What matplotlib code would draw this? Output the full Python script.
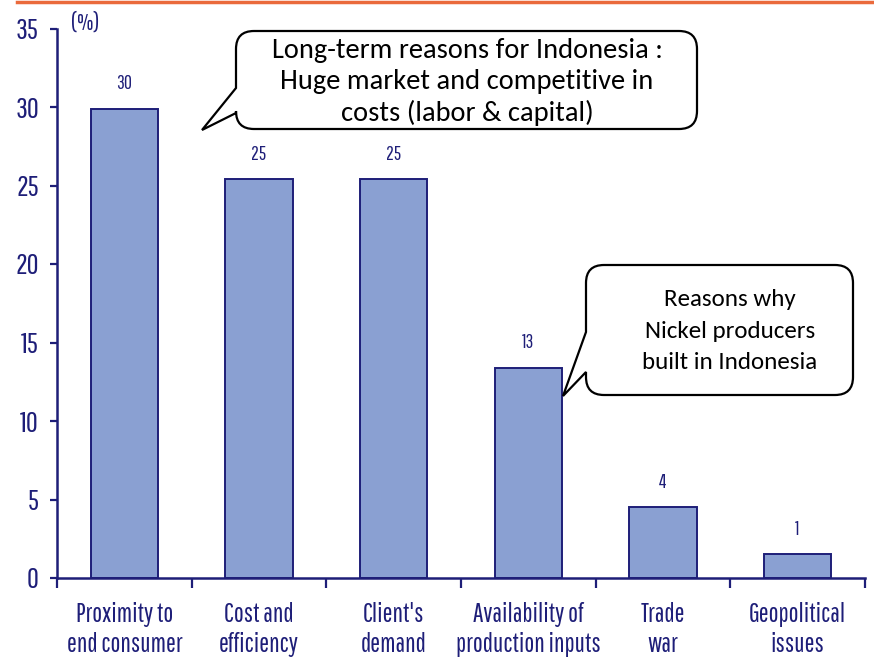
import numpy as np
import matplotlib
matplotlib.use("Agg")
import matplotlib.pyplot as plt
from matplotlib import font_manager as fm
from matplotlib.path import Path
from matplotlib.patches import PathPatch
from matplotlib.lines import Line2D

categories = ["Proximity to\nend consumer", "Cost and\nefficiency", "Client's\ndemand",
              "Availability of\nproduction inputs", "Trade\nwar", "Geopolitical\nissues"]
values = [29.9, 25.4, 25.4, 13.4, 4.5, 1.5]
value_labels = ["30", "25", "25", "13", "4", "1"]
yticks = [0, 5, 10, 15, 20, 25, 30, 35]

note1 = "Long-term reasons for Indonesia :\nHuge market and competitive in\ncosts (labor & capital)"
note2 = "Reasons why\nNickel producers\nbuilt in Indonesia"

installed = {f.name for f in fm.fontManager.ttflist}


def pick(cands):
    for c in cands:
        if c in installed:
            return [c, "DejaVu Sans"]
    return ["DejaVu Sans"]


narrow = pick(["Pathway Gothic One", "Fira Sans Extra Condensed", "Saira Extra Condensed",
               "Barlow Condensed", "Roboto Condensed", "Liberation Sans Narrow"])
body = pick(["Carlito", "Calibri", "Lato", "Open Sans"])

W, H = 874, 661
navy = "#1e1e78"
bar_fill = "#8aa0d2"

fig = plt.figure(figsize=(W / 100, H / 100), dpi=100)
ax = fig.add_axes([57 / W, 1 - 578 / H, 808 / W, 549.5 / H])

x = np.arange(len(categories))
ax.bar(x, values, width=0.5, color=bar_fill, edgecolor=navy, linewidth=1.4, zorder=2)
for xi, v, lab in zip(x, values, value_labels):
    ax.annotate(lab, (xi, v), xytext=(0, 18), textcoords="offset points",
                ha="center", va="center", color=navy, fontsize=14, family=narrow)

ax.set_xlim(-0.5, len(categories) - 0.5)
ax.set_ylim(0, 35)
ax.set_yticks(yticks)
ax.set_yticklabels([str(t) for t in yticks], family=narrow, fontsize=21, color=navy)
ax.set_xticks(x)
ax.set_xticklabels(categories, family=narrow, fontsize=19, color=navy, linespacing=1.25)
ax.set_xticks(np.arange(-0.5, len(categories)), minor=True)
ax.tick_params(axis="x", which="major", length=0, pad=17)
ax.tick_params(axis="x", which="minor", length=7, width=1.6, color=navy, direction="out")
ax.tick_params(axis="y", length=5, width=1.6, color=navy, pad=8)
for s in ["top", "right"]:
    ax.spines[s].set_visible(False)
for s in ["left", "bottom"]:
    ax.spines[s].set_color(navy)
    ax.spines[s].set_linewidth(1.8)

fig.text(85 / W, 1 - 23 / H, "(%)", ha="center", va="center", color=navy,
         fontsize=17, family=narrow)

# orange rule at top
fig.add_artist(Line2D([17 / W, 1], [1 - 1.5 / H, 1 - 1.5 / H], color="#ea6a3c",
                      linewidth=2.5, transform=fig.transFigure))


def callout(x0, y0, x1, y1, tip, base_a, base_b, r=18):
    # pixel coords from top-left; tail on left edge between base_a and base_b
    pts = []
    codes = []
    def mv(p): pts.append(p); codes.append(Path.MOVETO)
    def ln(p): pts.append(p); codes.append(Path.LINETO)
    def cv(c, p): pts.extend([c, p]); codes.extend([Path.CURVE3, Path.CURVE3])
    mv((x0 + r, y0))
    ln((x1 - r, y0)); cv((x1, y0), (x1, y0 + r))
    ln((x1, y1 - r)); cv((x1, y1), (x1 - r, y1))
    ln((x0 + r, y1)); cv((x0, y1), (x0, y1 - r))
    ln((x0, base_b)); ln(tip); ln((x0, base_a))
    ln((x0, y0 + r)); cv((x0, y0), (x0 + r, y0))
    pts.append((0, 0)); codes.append(Path.CLOSEPOLY)
    pts = [(px / W, 1 - py / H) for px, py in pts]
    patch = PathPatch(Path(pts, codes), facecolor="white", edgecolor="black",
                      linewidth=1.6, transform=fig.transFigure, zorder=5)
    fig.add_artist(patch)


callout(236, 31, 697, 129, (202, 130), 88, 113)
fig.text(467 / W, 1 - 82 / H, note1, ha="center", va="center", fontsize=20.5,
         family=body, linespacing=1.3, zorder=6)
callout(586, 265, 853, 395, (563, 396), 332, 372)
fig.text(730 / W, 1 - 331 / H, note2, ha="center", va="center", fontsize=18,
         family=body, linespacing=1.6, zorder=6)

fig.savefig("out.png", dpi=100)
